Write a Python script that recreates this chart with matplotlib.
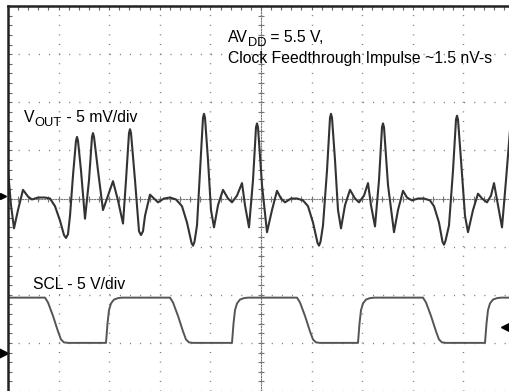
import matplotlib
matplotlib.use("Agg")
import numpy as np
import matplotlib.pyplot as plt
from matplotlib.ticker import MultipleLocator

plt.rcParams["font.family"] = ["Liberation Sans", "DejaVu Sans"]

# Scope settings
NS_PER_DIV = 50.6      # horizontal scale
VOUT_MV_PER_DIV = 5.0  # channel 1
SCL_V_PER_DIV = 5.0    # channel 2
SCL_OFFSET_DIV = -3.0  # channel 2 position on screen

# VOUT trace (time in ns, voltage in mV)
t_vout = [0, 3, 6, 10, 15, 20, 24, 30, 37, 42, 47, 52, 56, 58, 60, 62, 65,
          68, 69, 70, 73, 77, 81, 84, 85, 86, 90, 95, 100, 105, 110, 115, 118,
          121, 122, 123, 127, 131, 133, 135, 137, 142,
          150, 156, 162, 168, 174, 179, 183.5, 185, 186.5, 189, 192, 195, 196,
          197, 200, 203, 206, 210, 215, 220, 224, 229, 234, 237, 241, 245, 248,
          249, 250, 254, 259, 264, 269, 273,
          277, 283, 289, 295, 300, 305, 309.5, 311, 312.5, 315, 319, 322, 323,
          324, 327, 330, 333, 337, 342, 347, 351, 356, 360, 363, 367, 371, 374,
          375, 376, 380, 386, 390, 395, 399,
          404, 410, 416, 422, 426, 431, 434.5, 436, 437.5, 441, 445, 448, 449,
          450, 453, 457, 460, 465, 470, 474, 479, 483, 486, 490, 494, 498, 502]
v_vout = [2.9, -0.7, -3.1, -1.2, 0.9, 0.2, -0.1, 0.1, 0.1, 0.0, -0.8, -2.3,
          -3.8, -4.1, -3.7, -1.8, 2.4, 6.0, 6.4, 6.0, 2.9, -2.1, 1.9, 6.4, 6.8,
          6.4, 2.9, -1.2, 0.3, 1.8, -0.2, -2.6, 1.9, 6.8, 7.2, 6.8, 1.9, -3.4,
          -3.8, -3.4, -1.8, 0.4,
          -0.4, 0.0, 0.1, -0.1, -0.8, -2.5, -4.6, -4.9, -4.5, -2.8, 2.9, 8.4,
          8.8, 8.4, 4.0, -1.2, -3.0, -0.7, 0.9, 0.0, -0.4, 0.3, 1.6, -0.7, -3.0,
          1.9, 7.4, 7.8, 7.4, 1.4, -3.5, -1.2, 0.8, 0.0,
          -0.4, 0.0, 0.0, -0.2, -0.8, -2.5, -4.6, -4.9, -4.5, -2.8, 2.9, 8.4,
          8.8, 8.4, 4.0, -1.2, -3.1, -0.7, 0.9, 0.0, -0.4, 0.3, 1.6, -0.7, -2.9,
          1.9, 7.4, 7.8, 7.4, 1.4, -3.5, -1.2, 0.8, 0.1,
          -0.2, 0.0, 0.0, -0.2, -0.8, -2.5, -4.5, -4.8, -4.4, -2.8, 2.9, 8.2,
          8.6, 8.2, 4.0, -1.8, -3.5, -1.2, 0.5, 0.0, -0.4, 0.3, 1.6, -0.7, -3.0,
          1.9, 7.1]

# SCL trace (time in ns, voltage in V)
t_scl = [0, 37, 40, 45, 50, 53, 56, 60, 98, 99.5, 101, 103, 106, 110, 114,
         162, 165, 170, 175, 178, 181, 185, 224, 225.5, 227, 229, 232, 236, 240,
         289, 292, 297, 302, 305, 308, 312, 350, 351.5, 353, 355, 358, 362, 366,
         415, 418, 423, 428, 431, 434, 438, 477, 478.5, 480, 482, 485, 489, 493,
         506]
v_scl = [4.7, 4.7, 4.2, 2.8, 1.2, 0.35, 0.05, 0.0, 0.0, 2.0, 3.4, 4.1, 4.5, 4.65, 4.7,
         4.7, 4.2, 2.8, 1.2, 0.35, 0.05, 0.0, 0.0, 2.0, 3.4, 4.1, 4.5, 4.65, 4.7,
         4.7, 4.2, 2.8, 1.2, 0.35, 0.05, 0.0, 0.0, 2.0, 3.4, 4.1, 4.5, 4.65, 4.7,
         4.7, 4.2, 2.8, 1.2, 0.35, 0.05, 0.0, 0.0, 2.0, 3.4, 4.1, 4.5, 4.65, 4.7,
         4.7]

# screen markers (divisions)
CH1_MARK_Y = 0.06
CH2_MARK_Y = -3.22
TRIG_MARK = (9.84, -2.68)

FS = 11.3      # label size
FS_SUB = 9.3   # subscript size

fig = plt.figure(figsize=(5.09, 3.91), dpi=100)
rect = [8 / 509, 0.0, 506 / 509, 385 / 391]

# center crosshair with fine ticks (drawn underneath)
cx = fig.add_axes(rect)
cx.set_xlim(0, 10)
cx.set_ylim(-4, 4)
cx.patch.set_visible(False)
for s in ("top", "right"):
    cx.spines[s].set_visible(False)
cx.spines["left"].set_position(("data", 5))
cx.spines["bottom"].set_position(("data", 0))
for s in ("left", "bottom"):
    cx.spines[s].set_linestyle((0, (1, 1.5)))
    cx.spines[s].set_linewidth(0.8)
    cx.spines[s].set_color("#777777")
cx.xaxis.set_major_locator(MultipleLocator(1))
cx.xaxis.set_minor_locator(MultipleLocator(0.2))
cx.yaxis.set_major_locator(MultipleLocator(1))
cx.yaxis.set_minor_locator(MultipleLocator(0.2))
cx.tick_params(which="both", direction="inout", length=5, width=0.8,
               color="#777777", labelleft=False, labelbottom=False)

# main screen
ax = fig.add_axes(rect)
ax.set_zorder(2)
ax.patch.set_visible(False)
ax.set_xlim(0, 10)
ax.set_ylim(-4, 4)
ax.xaxis.set_major_locator(MultipleLocator(1))
ax.xaxis.set_minor_locator(MultipleLocator(0.2))
ax.yaxis.set_major_locator(MultipleLocator(1))
ax.yaxis.set_minor_locator(MultipleLocator(0.2))
ax.xaxis.set_ticks_position("top")
ax.yaxis.set_ticks_position("left")
ax.tick_params(which="both", direction="in", length=3, width=0.8,
               color="#666666", labeltop=False, labelleft=False,
               labelbottom=False)
ax.grid(which="major", axis="x", color="#777777", lw=1.0,
        linestyle=(0, (0.72, 6.21)))
ax.grid(which="major", axis="y", color="#777777", lw=1.0,
        linestyle=(0, (0.72, 6.57)))
for s in ("bottom", "right"):
    ax.spines[s].set_visible(False)
for s in ("top", "left"):
    ax.spines[s].set_linewidth(1.8)
    ax.spines[s].set_color("#222222")

# traces
ax.plot(np.array(t_vout) / NS_PER_DIV, np.array(v_vout) / VOUT_MV_PER_DIV,
        color="#333333", lw=1.5, solid_joinstyle="round")
ax.plot(np.array(t_scl) / NS_PER_DIV,
        np.array(v_scl) / SCL_V_PER_DIV + SCL_OFFSET_DIV,
        color="#555555", lw=1.4)

# channel / trigger markers
ax.plot([-0.1], [CH1_MARK_Y], marker=">", ms=4, color="black", clip_on=False)
ax.plot([-0.09], [CH2_MARK_Y], marker=">", ms=7, color="black", clip_on=False)
ax.plot([TRIG_MARK[0]], [TRIG_MARK[1]], marker="<", ms=7, color="black",
        clip_on=False)

# labels (subscripts laid out piece by piece)
renderer = fig.canvas.get_renderer()


def label(x, y, parts):
    dx = 0.0
    for text, sub in parts:
        t = ax.annotate(text, (x, y), xytext=(dx, -4 if sub else 0),
                        textcoords="offset pixels",
                        fontsize=FS_SUB if sub else FS, va="baseline")
        dx += t.get_window_extent(renderer).width


label(4.35, 3.26, [("AV", False), ("DD", True), (" = 5.5 V,", False)])
label(4.35, 2.81, [("Clock Feedthrough Impulse ~1.5 nV-s", False)])
label(0.32, 1.58, [("V", False), ("OUT", True), (" - 5 mV/div", False)])
label(0.49, -1.89, [("SCL - 5 V/div", False)])

fig.savefig("out.png", dpi=100, facecolor="white")
